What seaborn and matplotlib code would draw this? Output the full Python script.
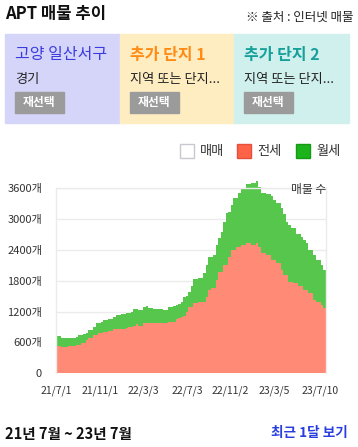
import pandas as pd
import matplotlib
matplotlib.use("Agg")
import matplotlib.pyplot as plt
import matplotlib.patches as mpatches
import seaborn as sns

# Weekly listing counts from 2021-07-01
jeonse = [531, 531, 512, 512, 512, 531, 531, 531, 551, 551, 596, 596, 648, 693,
          693, 745, 745, 790, 790, 810, 810, 830, 830, 856, 856, 862, 862, 862,
          882, 895, 895, 926, 952, 926, 926, 973, 973, 973, 973, 973, 973, 973,
          973, 973, 980, 993, 993, 1005, 1050, 1070, 1090, 1115, 1199, 1297,
          1297, 1374, 1374, 1394, 1394, 1394, 1491, 1621, 1654, 1654, 1816, 1978,
          1978, 2107, 2107, 2270, 2400, 2400, 2465, 2465, 2497, 2497, 2530, 2530,
          2497, 2497, 2530, 2465, 2335, 2335, 2302, 2302, 2205, 2205, 2140, 2140,
          2010, 1913, 1913, 1783, 1783, 1750, 1750, 1705, 1705, 1621, 1621, 1557,
          1557, 1427, 1381, 1381, 1330, 1265]
wolse = [195, 195, 175, 175, 175, 156, 156, 159, 162, 194, 154, 162, 142, 150,
         157, 150, 228, 185, 203, 227, 227, 220, 220, 246, 278, 272, 291, 291,
         285, 272, 291, 319, 293, 306, 306, 311, 337, 291, 291, 272, 272, 272,
         272, 259, 252, 304, 304, 305, 270, 279, 304, 376, 301, 291,
         408, 461, 461, 467, 467, 552, 616, 649, 616, 648, 681, 649,
         779, 845, 1006, 876, 875, 1005, 940, 1037, 1089, 1089, 1148, 1148,
         1200, 1200, 1212, 1167, 1167, 1167, 1181, 1181, 1252, 1168, 1168, 1168,
         1201, 1181, 1039, 1104, 1039, 1072, 955, 1000, 955, 973, 909, 843,
         843, 875, 824, 824, 777, 745]
start_date = "2021-07-01"
tick_dates = ["2021-07-01", "2021-11-01", "2022-03-03", "2022-07-03",
              "2022-11-02", "2023-03-05", "2023-07-10"]
tick_labels = ["21/7/1", "21/11/1", "22/3/3", "22/7/3", "22/11/2", "23/3/5", "23/7/10"]
y_ticks = [0, 600, 1200, 1800, 2400, 3000, 3600]

sns.set_theme(style="white")
plt.rcParams['font.family'] = ['Noto Sans CJK KR', 'DejaVu Sans']

df = pd.DataFrame({
    "date": pd.date_range(start_date, periods=len(jeonse), freq="7D"),
    "전세": jeonse,
    "월세": wolse,
})
df["total"] = df["전세"] + df["월세"]
# extra edge so the last step has width
edges = list(df["date"]) + [df["date"].iloc[-1] + pd.Timedelta(days=7)]
j_vals = list(df["전세"]) + [df["전세"].iloc[-1]]
t_vals = list(df["total"]) + [df["total"].iloc[-1]]

W, H = 358, 447
fig = plt.figure(figsize=(W / 100, H / 100), dpi=100)

def px(x, y):
    return x / W, 1 - y / H

# header
fig.text(*px(5, 14), "APT 매물 추이", fontsize=12, fontweight="bold", va="center", ha="left", color="#111111")
fig.text(*px(354, 17), "※ 출처 : 인터넷 매물", fontsize=9, va="center", ha="right", color="#222222")

# three selection panels
panels = [
    (5, "#D5D5FA", "고양 일산서구", "#3B3BE0", "normal", "경기"),
    (120, "#FFEDC2", "추가 단지 1", "#FF8A14", "bold", "지역 또는 단지..."),
    (234, "#D0F0EE", "추가 단지 2", "#17A09A", "bold", "지역 또는 단지..."),
]
for x0, bg, title, tcol, tw, sub in panels:
    fig.patches.append(mpatches.Rectangle(px(x0, 123), 115 / W, 89 / H,
                                          transform=fig.transFigure, color=bg, zorder=0))
    fig.text(*px(x0 + 10, 55), title, fontsize=11.5, fontweight=tw, color=tcol, va="center", ha="left")
    fig.text(*px(x0 + 10, 80), sub, fontsize=9.5, color="#222222", va="center", ha="left")
    fig.patches.append(mpatches.Rectangle(px(x0 + 10, 113), 49 / W, 21 / H,
                                          transform=fig.transFigure, color="#9B9B9B", zorder=1))
    fig.text(*px(x0 + 34.5, 102.5), "재선택", fontsize=8.5, fontweight="bold", color="white",
             va="center", ha="center")

# legend
legend_items = [(180, "white", "#C8C8D0", "매매"), (237, "#FF6347", "#E5503A", "전세"),
                (296, "#1DB31D", "#149A14", "월세")]
for lx, fc, ec, lab in legend_items:
    fig.patches.append(mpatches.Rectangle(px(lx, 158), 14 / W, 14 / H, transform=fig.transFigure,
                                          facecolor=fc, edgecolor=ec, linewidth=1))
    fig.text(*px(lx + 20, 151), lab, fontsize=9.5, color="#333333", va="center", ha="left")

# chart
ax = fig.add_axes([56 / W, (H - 373.3) / H, 270 / W, 185 / H])
ax.fill_between(edges, 0, j_vals, step="post", color="#FF8A75", linewidth=0, clip_on=False, zorder=2)
ax.fill_between(edges, j_vals, t_vals, step="post", color="#56C74C", linewidth=0, clip_on=False, zorder=2)
ax.set_xlim(edges[0], edges[-1])
ax.set_ylim(0, 3600)
ax.set_yticks(y_ticks)
ax.set_yticklabels([str(v) if v == 0 else f"{v}개" for v in y_ticks], fontsize=8, color="#333333")
ax.set_xticks(pd.to_datetime(tick_dates))
ax.set_xticklabels(tick_labels, fontsize=7.5, color="#333333")
ax.tick_params(axis="both", length=0)
ax.tick_params(axis="y", pad=10)
ax.tick_params(axis="x", pad=9)
ax.grid(axis="y", color="#EBEBEB", linewidth=1)
ax.set_axisbelow(True)
for side in ["left", "right", "top"]:
    ax.spines[side].set_color("#EBEBEB")
    ax.spines[side].set_linewidth(1)
ax.spines["bottom"].set_visible(False)
ax.set_xlabel("")
ax.set_ylabel("")
fig.text(*px(326, 190), "매물 수", fontsize=8.5, color="#333333", va="center", ha="right", zorder=5)

# footer
fig.text(*px(5, 434), "21년 7월 ~ 23년 7월", fontsize=10.5, fontweight="bold", color="#111111", va="center", ha="left")
fig.text(*px(348, 433), "최근 1달 보기", fontsize=9.8, fontweight="bold", color="#2A3FE0", va="center", ha="right")

fig.savefig("out.png", dpi=100)
